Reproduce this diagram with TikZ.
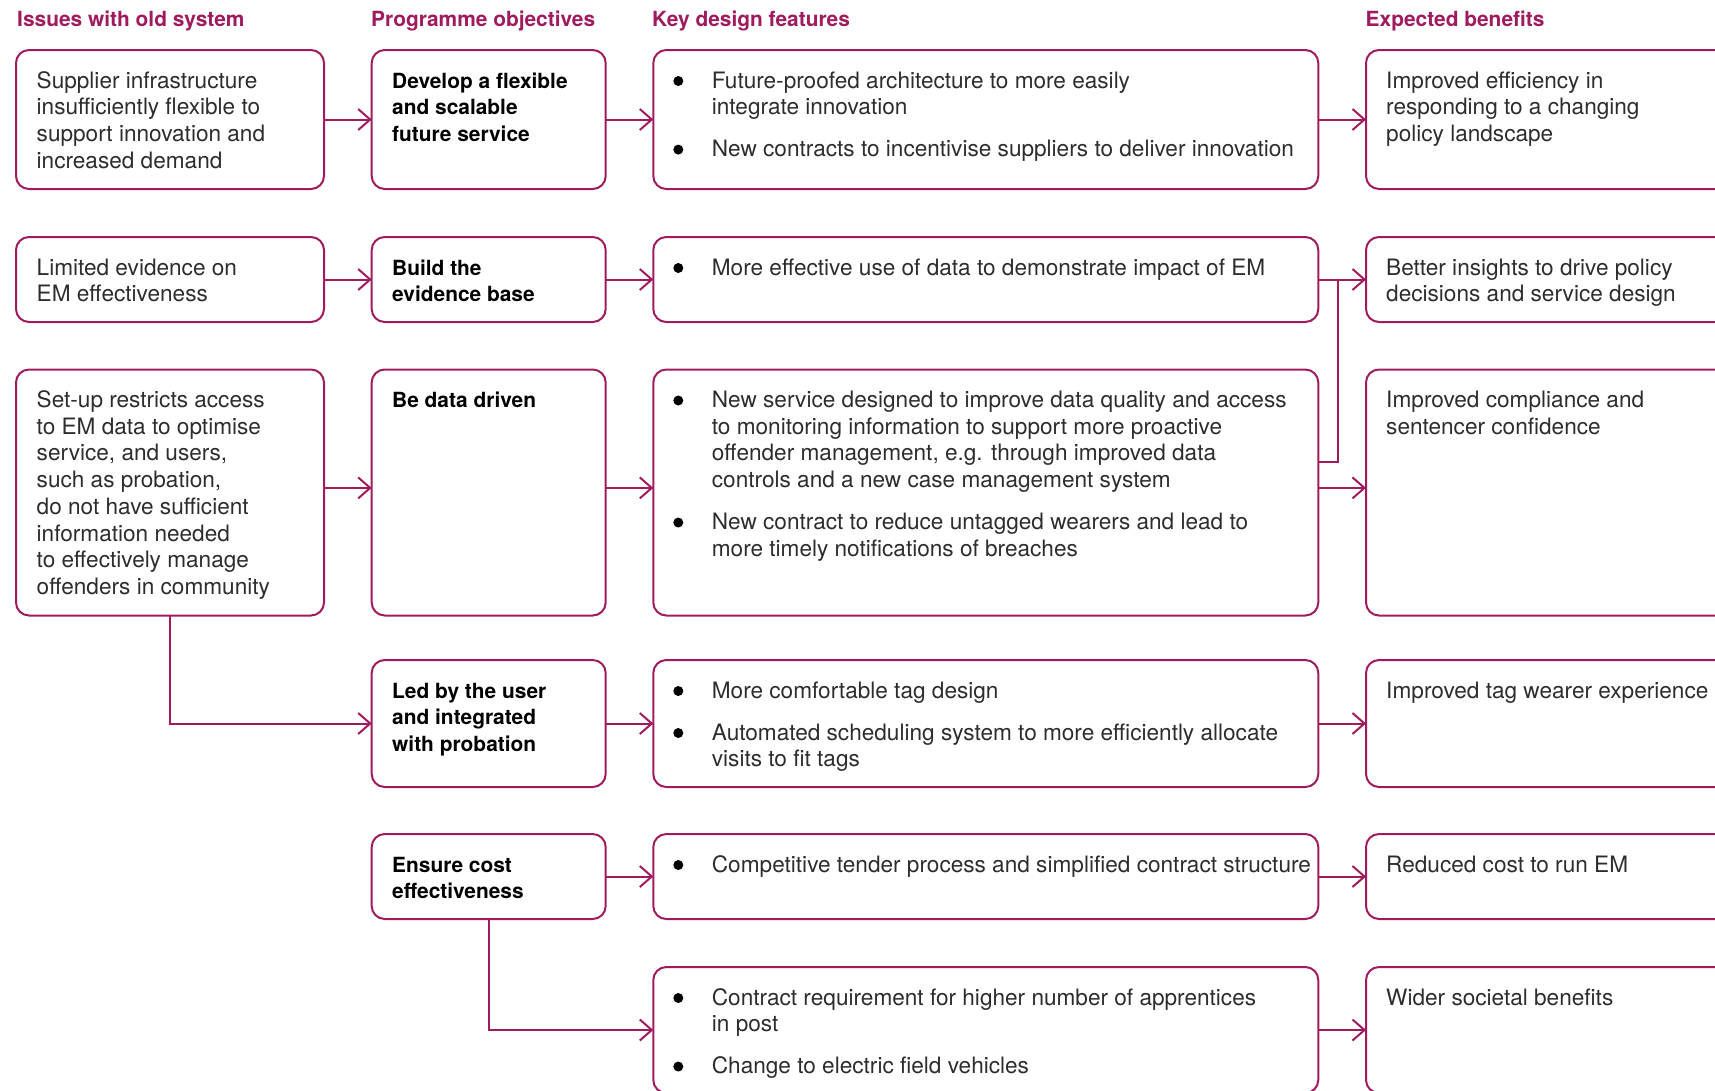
\documentclass[tikz,border=0pt]{standalone}
\usepackage{fontspec}
\setmainfont{TeX Gyre Heros}
\usetikzlibrary{arrows.meta,calc}
\definecolor{nao}{RGB}{160,27,94}
\definecolor{txt}{RGB}{45,45,45}
\newcommand\bodyfnt{\fontsize{22.6}{26.7}\selectfont}
\newcommand\boldfnt{\fontsize{20.9}{26.7}\selectfont\bfseries}
\tikzset{
  box/.style={draw=nao, line width=2pt, rounded corners=13pt, inner sep=0pt, outer sep=0pt, anchor=north west},
  arr/.style={draw=nao, line width=2pt, -{Straight Barb[length=12pt,width=21pt]}},
  ln/.style={draw=nao, line width=2pt},
  hdr/.style={anchor=base west, inner sep=0pt, font=\boldfnt, text=nao},
  body/.style={anchor=base west, inner sep=0pt, align=left, font=\bodyfnt, text=txt},
  bodyb/.style={anchor=base west, inner sep=0pt, align=left, font=\boldfnt, text=black},
  bul/.style={fill=black}
}
\begin{document}
\begin{tikzpicture}[x=1pt,y=-1pt]
\useasboundingbox (0,0) rectangle (1715,1090);
\clip (0,0) rectangle (1715,1090);
% headers
\node[hdr] (h1) at (17,26.7) {Issues with old system};
\node[hdr] (h2) at (371,26.7) {Programme objectives};
\node[hdr] (h3) at (652,26.7) {Key design features};
\node[hdr] (h4) at (1365.5,26.7) {Expected benefits};
% column 1 boxes
\node[box, minimum width=308pt, minimum height=139pt] (c1r1) at (16,50) {};
\node[box, minimum width=308pt, minimum height=85pt] (c1r2) at (16,237) {};
\node[box, minimum width=308pt, minimum height=246pt] (c1r3) at (16,369.5) {};
% column 2 boxes
\node[box, minimum width=234pt, minimum height=139pt] (c2r1) at (371.7,50) {};
\node[box, minimum width=234pt, minimum height=85pt] (c2r2) at (371.7,237) {};
\node[box, minimum width=234pt, minimum height=246pt] (c2r3) at (371.7,369.5) {};
\node[box, minimum width=234pt, minimum height=127pt] (c2r4) at (371.7,660) {};
\node[box, minimum width=234pt, minimum height=85pt] (c2r5) at (371.7,834) {};
% column 3 boxes
\node[box, minimum width=665pt, minimum height=139pt] (c3r1) at (653.3,50) {};
\node[box, minimum width=665pt, minimum height=85pt] (c3r2) at (653.3,237) {};
\node[box, minimum width=665pt, minimum height=246pt] (c3r3) at (653.3,369.5) {};
\node[box, minimum width=665pt, minimum height=127pt] (c3r4) at (653.3,660) {};
\node[box, minimum width=665pt, minimum height=85pt] (c3r5) at (653.3,834) {};
\node[box, minimum width=665pt, minimum height=126pt] (c3r6) at (653.3,967) {};
% column 4 boxes
\node[box, minimum width=380pt, minimum height=139pt] (c4r1) at (1366,50) {};
\node[box, minimum width=380pt, minimum height=85pt] (c4r2) at (1366,237) {};
\node[box, minimum width=380pt, minimum height=246pt] (c4r3) at (1366,369.5) {};
\node[box, minimum width=380pt, minimum height=127pt] (c4r4) at (1366,660) {};
\node[box, minimum width=380pt, minimum height=85pt] (c4r5) at (1366,834) {};
\node[box, minimum width=380pt, minimum height=126pt] (c4r6) at (1366,967) {};
% column 1 texts (positions are baselines of last lines)
\node[body] (t1r1) at (36.5,168.1) {Supplier infrastructure\\insufficiently flexible to\\support innovation and\\increased demand};
\node[body] (t1r2) at (36.5,301.7) {Limited evidence on\\EM effectiveness};
\node[body] (t1r3) at (36.5,594.4) {Set-up restricts access\\to EM data to optimise\\service, and users,\\such as probation,\\do not have sufficient\\information needed\\to effectively manage\\offenders in community};
% column 2 texts
\node[bodyb] (t2r1) at (392,141.4) {Develop a flexible\\and scalable\\future service};
\node[bodyb] (t2r2) at (392,301.7) {Build the\\evidence base};
\node[bodyb] (t2r3) at (392,407.5) {Be data driven};
\node[bodyb] (t2r4) at (392,751.4) {Led by the user\\and integrated\\with probation};
\node[bodyb] (t2r5) at (392,898.7) {Ensure cost\\effectiveness};
% column 3 texts
\node[body] (t3r1a) at (711.7,114.7) {Future-proofed architecture to more easily\\integrate innovation};
\node[body] (t3r1b) at (711.7,156.6) {New contracts to incentivise suppliers to deliver innovation};
\node[body] (t3r2a) at (711.7,275) {More effective use of data to demonstrate impact of EM};
\node[body] (t3r3a) at (711.7,487.6) {New service designed to improve data quality and access\\to monitoring information to support more proactive\\offender management, e.g. through improved data\\controls and a new case management system};
\node[body] (t3r3b) at (711.7,556.2) {New contract to reduce untagged wearers and lead to\\more timely notifications of breaches};
\node[body] (t3r4a) at (711.7,698) {More comfortable tag design};
\node[body] (t3r4b) at (711.7,766.7) {Automated scheduling system to more efficiently allocate\\visits to fit tags};
\node[body] (t3r5a) at (711.7,872) {Competitive tender process and simplified contract structure};
\node[body] (t3r6a) at (711.7,1031.7) {Contract requirement for higher number of apprentices\\in post};
\node[body] (t3r6b) at (711.7,1073.5) {Change to electric field vehicles};
% bullets (first-line baselines minus 7)
\foreach \by in {88,156.6,275,407.5,529.5,698,740,872,1005,1073.5}
  \fill[bul] (678.3,\by-7) circle (5pt);
% column 4 texts
\node[body] (t4r1) at (1386,141.4) {Improved efficiency in\\responding to a changing\\policy landscape};
\node[body] (t4r2) at (1386,301.7) {Better insights to drive policy\\decisions and service design};
\node[body] (t4r3) at (1386,434.2) {Improved compliance and\\sentencer confidence};
\node[body] (t4r4) at (1386,698) {Improved tag wearer experience};
\node[body] (t4r5) at (1386,872) {Reduced cost to run EM};
\node[body] (t4r6) at (1386,1005) {Wider societal benefits};
% connectors
\draw[arr] (c1r1.east) -- (c2r1.west);
\draw[arr] (c2r1.east) -- (c3r1.west);
\draw[arr] (c3r1.east) -- (c4r1.west);
\draw[arr] (c1r2.east) -- (c2r2.west);
\draw[arr] (c2r2.east) -- (c3r2.west);
\draw[arr] (c3r2.east) -- (c4r2.west);
\draw[arr] ([yshift=4.6pt]c1r3.east) -- ([yshift=4.6pt]c2r3.west);
\draw[arr] ([yshift=4.6pt]c2r3.east) -- ([yshift=4.6pt]c3r3.west);
\draw[arr] ([yshift=4.6pt]c3r3.east) -- ([yshift=4.6pt]c4r3.west);
\coordinate (jn) at (1338,279.3);
\draw[ln] ([yshift=30.3pt]c3r3.east) -| (jn);
\draw[arr] (c1r3.south) |- (c2r4.west);
\draw[arr] (c2r4.east) -- (c3r4.west);
\draw[arr] (c3r4.east) -- (c4r4.west);
\draw[arr] (c2r5.east) -- (c3r5.west);
\draw[arr] (c3r5.east) -- (c4r5.west);
\draw[arr] (c2r5.south) |- (c3r6.west);
\draw[arr] (c3r6.east) -- (c4r6.west);
\end{tikzpicture}
\end{document}
